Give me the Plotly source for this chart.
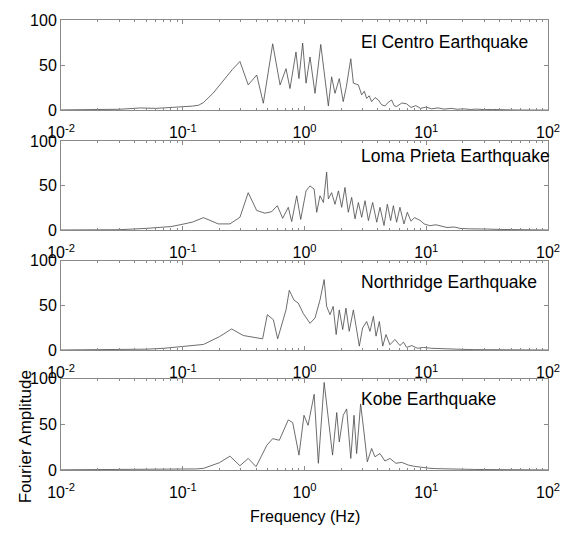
import plotly.graph_objects as go
from plotly.subplots import make_subplots

# ---------------- data ----------------
titles = ["El Centro Earthquake", "Loma Prieta Earthquake",
          "Northridge Earthquake", "Kobe Earthquake"]

elcentro_f = [0.01, 0.02, 0.03, 0.045, 0.06, 0.08, 0.1, 0.12, 0.135, 0.148,
              0.178, 0.215, 0.255, 0.295, 0.345, 0.405, 0.459, 0.548, 0.63, 0.705,
              0.76, 0.851, 0.90, 0.966, 1.03, 1.11, 1.22, 1.36, 1.45, 1.57,
              1.67, 1.78, 1.93, 2.08, 2.2, 2.40, 2.52, 2.77, 2.95, 3.1,
              3.24, 3.4, 3.56, 3.8, 4.04, 4.3, 4.58, 4.9, 5.20, 5.45,
              5.71, 6.3, 6.9, 7.5, 8.2, 9.0, 10, 11, 12.5, 14,
              16, 18, 20, 23, 26, 30, 35, 40, 50, 60,
              80, 100]
elcentro_a = [0.3, 0.5, 1.0, 2.5, 2.0, 3.0, 3.5, 4.5, 5.5, 8.5,
              19, 33, 45, 54, 28, 39, 7.7, 73.6, 28, 46,
              24, 64.5, 35, 74.4, 30, 59, 18.7, 72.9, 43, 4.7,
              37, 18.7, 35, 9.5, 25, 57, 30, 28, 17, 21,
              13, 16, 9.5, 14, 11.3, 6, 4.7, 9, 11.3, 5,
              4, 8, 7, 3, 5, 2, 3.5, 1.5, 2.5, 1.2,
              2, 1, 1.5, 0.8, 1.2, 0.6, 0.8, 0.4, 0.3, 0.2,
              0.1, 0.1]

loma_f = [0.01, 0.03, 0.05, 0.065, 0.08, 0.095, 0.12, 0.148, 0.196, 0.244,
          0.295, 0.345, 0.405, 0.474, 0.537, 0.598, 0.662, 0.736, 0.785, 0.863,
          0.931, 1.03, 1.11, 1.20, 1.26, 1.34, 1.43, 1.52, 1.57, 1.67,
          1.78, 1.90, 2.02, 2.15, 2.29, 2.44, 2.60, 2.77, 2.95, 3.14,
          3.35, 3.63, 3.92, 4.17, 4.50, 4.79, 5.10, 5.37, 5.71, 6.08,
          6.56, 6.99, 7.5, 8.0, 8.9, 9.6, 10.7, 12, 14.8, 17,
          18.9, 22, 26, 32, 40, 50, 65, 80, 100]
loma_a = [0.2, 0.5, 2, 3, 4, 6, 9, 14, 7, 7,
          14.4, 42, 22, 19, 20.7, 27.4, 13.3, 25.6, 9.6, 38.5,
          12, 44, 49.6, 46, 20, 38.5, 31, 65, 35, 42,
          29, 44, 25.6, 47.8, 20, 36.7, 12.6, 31, 14.4, 33,
          10.7, 31, 8.9, 25.6, 5.2, 29, 10.7, 27.4, 8.9, 25.6,
          7, 20, 10, 14, 11, 7, 5, 6, 3, 3.5,
          2, 1.5, 1, 1.2, 0.8, 0.6, 0.4, 0.3, 0.2]

northridge_f = [0.01, 0.03, 0.05, 0.07, 0.095, 0.12, 0.148, 0.2, 0.252, 0.314,
                0.379, 0.453, 0.495, 0.555, 0.602, 0.670, 0.705, 0.750, 0.820, 0.889,
                0.977, 1.11, 1.22, 1.34, 1.45, 1.52, 1.62, 1.72, 1.82, 1.93,
                2.06, 2.19, 2.33, 2.52, 2.65, 2.82, 3.00, 3.24, 3.45, 3.68,
                3.87, 4.12, 4.39, 4.67, 5.03, 5.53, 6.08, 6.5, 6.9, 7.6,
                8.5, 9.5, 11, 13, 16, 20, 25, 32, 40, 55,
                75, 100]
northridge_a = [0.1, 0.3, 1, 2, 3.7, 5, 6.3, 15, 23.7, 16.3,
                14.4, 12.6, 39.7, 34, 12.6, 36, 45, 67, 56, 52.6,
                41, 30, 36, 56, 79, 49, 39.7, 49, 17.4, 45,
                23, 47, 21, 45, 26.7, 4.4, 24.8, 32, 21, 37.8,
                15.6, 32, 4.4, 17.4, 6, 11.9, 5, 8.9, 3, 5,
                2, 3, 2, 1.5, 1, 0.8, 0.5, 0.4, 0.3, 0.2,
                0.1, 0.1]

kobe_f = [0.01, 0.05, 0.1, 0.13, 0.148, 0.2, 0.244, 0.295, 0.345, 0.400,
          0.490, 0.548, 0.621, 0.736, 0.80, 0.901, 0.99, 1.07, 1.20, 1.30,
          1.45, 1.57, 1.70, 1.84, 1.93, 2.08, 2.22, 2.40, 2.55, 2.68,
          2.89, 3.08, 3.28, 3.56, 3.79, 4.17, 4.58, 5.03, 5.64, 6.28,
          7.13, 8, 9, 10.5, 12, 15, 20, 25, 30, 40,
          55, 75, 100]
kobe_a = [0.2, 0.5, 0.8, 1.2, 1.8, 8, 15.2, 4.7, 12.7, 3.6,
          27, 34.4, 32.6, 55, 52, 16.3, 60, 49, 83, 7.3,
          96, 52.5, 16.3, 63, 30.8, 60, 67, 12.7, 60, 18,
          72.5, 41.6, 9, 23.6, 14.5, 18, 9.8, 12.7, 7.3, 8.4,
          5.4, 4, 3, 2, 1.5, 1, 0.8, 0.6, 0.5, 0.3,
          0.2, 0.1, 0.1]

x_tickvals = [0.01, 0.1, 1, 10, 100]
x_ticktext = ["10<sup>-2</sup>", "10<sup>-1</sup>", "10<sup>0</sup>",
              "10<sup>1</sup>", "10<sup>2</sup>"]
y_tickvals = [0, 50, 100]

series = [(elcentro_f, elcentro_a), (loma_f, loma_a),
          (northridge_f, northridge_a), (kobe_f, kobe_a)]
for f, a in series:
    assert len(f) == len(a), (len(f), len(a))

# ---------------- figure ----------------
W, H = 576, 533
fig = make_subplots(rows=4, cols=1, shared_xaxes=False, vertical_spacing=0.0)

domains = [(0.7996, 1.0), (0.533, 0.7313), (0.2665, 0.4648), (0.0, 0.2026)]
title_pos = [0.758, 0.833, 0.767, 0.783]

minor_vals = [m * 10 ** e for e in range(-2, 2) for m in range(2, 10)]

FONT = "Liberation Sans, Arial, Helvetica, sans-serif"
line_col = "#8a8a8a"

for i, (f, a) in enumerate(series):
    r = i + 1
    fig.add_trace(go.Scatter(x=f, y=a, mode="lines",
                             line=dict(color="#484848", width=0.8),
                             showlegend=False, hoverinfo="skip"), row=r, col=1)
    fig.update_xaxes(type="log", range=[-2, 2],
                     tickmode="array", tickvals=x_tickvals, ticktext=x_ticktext,
                     ticks="inside", ticklen=4, tickcolor=line_col,
                     showline=True, linecolor=line_col, linewidth=1,
                     mirror="allticks", showgrid=False, zeroline=False,
                     ticklabelstandoff=8,
                     minor=dict(tickmode="array", tickvals=minor_vals,
                                ticks="inside", ticklen=2, tickcolor=line_col,
                                showgrid=False),
                     tickfont=dict(size=16, color="black", family=FONT),
                     row=r, col=1)
    fig.update_yaxes(range=[0, 100], tickmode="array", tickvals=y_tickvals,
                     ticks="inside", ticklen=4, tickcolor=line_col,
                     showline=True, linecolor=line_col, linewidth=1,
                     mirror="allticks", showgrid=False, zeroline=False,
                     ticklabelstandoff=0,
                     tickfont=dict(size=16, color="black", family=FONT),
                     domain=list(domains[i]), row=r, col=1)
    xref = "x domain" if r == 1 else f"x{r} domain"
    yref = "y domain" if r == 1 else f"y{r} domain"
    fig.add_annotation(text=titles[i], xref=xref, yref=yref,
                       x=0.612, y=title_pos[i], xanchor="left", yanchor="middle",
                       showarrow=False,
                       font=dict(size=17.5, color="black", family=FONT))

fig.add_annotation(text="Frequency (Hz)", xref="paper", yref="paper",
                   x=0.5, y=-0.1035, xanchor="center", yanchor="middle",
                   showarrow=False, font=dict(size=16, color="black", family=FONT))
fig.add_annotation(text="Fourier Amplitude", xref="paper", yref="paper",
                   x=-0.0739, y=0.0727, xanchor="center", yanchor="middle",
                   textangle=-90, showarrow=False,
                   font=dict(size=17, color="black", family=FONT))

fig.update_layout(width=W, height=H,
                  margin=dict(l=61, r=28, t=16, b=63),
                  paper_bgcolor="white", plot_bgcolor="white")

fig.write_html("out.html",
               config={"displayModeBar": False, "responsive": False},
               post_script="document.body.style.margin='0';"
                           "document.body.style.overflow='hidden';")
